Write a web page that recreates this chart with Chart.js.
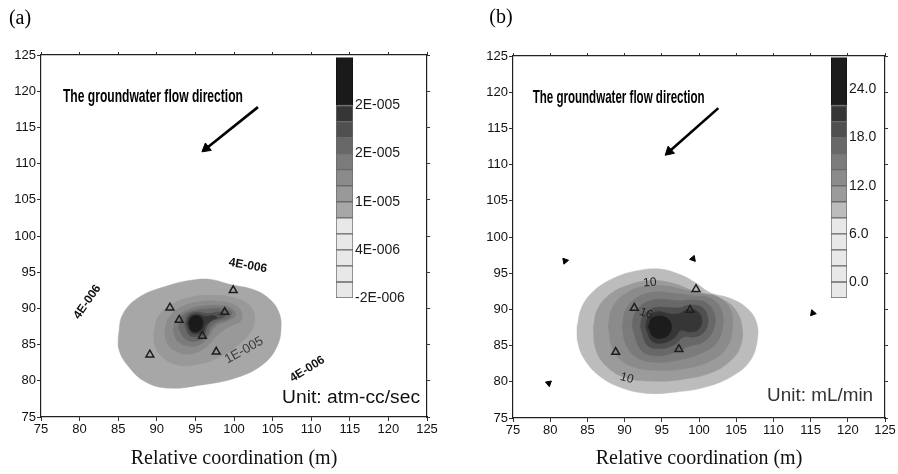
<!DOCTYPE html>
<html>
<head>
<meta charset="utf-8">
<script src="https://cdn.jsdelivr.net/npm/chart.js@4/dist/chart.umd.min.js"></script>
<style>
  body { margin: 0; background: #fff; width: 898px; height: 474px; position: relative; overflow: hidden; }
  .box { position: absolute; }
</style>
</head>
<body>
<div class="box" style="left:0;top:0;width:449px;height:474px"><canvas id="plotA"></canvas></div>
<div class="box" style="left:449px;top:0;width:449px;height:474px"><canvas id="plotB"></canvas></div>
<div class="box" style="left:336px;top:47px;width:80px;height:262px"><canvas id="barA"></canvas></div>
<div class="box" style="left:831px;top:47px;width:62px;height:262px"><canvas id="barB"></canvas></div>
<script>
// axis ticks (m)
const axisTicks = [75, 80, 85, 90, 95, 100, 105, 110, 115, 120, 125];

// contour levels (a: x1E-006 atm-cc/sec, b: mL/min)
const levels = [8, 10, 12, 14, 16, 18, 20, 22];

// colour bar bands
const bandLo = [-2, 0, 2, 4, 6, 8, 10, 12, 14, 16, 18, 20, 22];
const bandHi = [0, 2, 4, 6, 8, 10, 12, 14, 16, 18, 20, 22, 28];
const barTicksA = [-2, 4, 10, 16, 22];
const barLabelsA = ['-2E-006', '4E-006', '1E-005', '2E-005', '2E-005'];
const barTicksB = [0, 6, 12, 18, 24];
const barLabelsB = ['0.0', '6.0', '12.0', '18.0', '24.0'];

// monitoring wells (triangles)
const wellsAx = [99.9, 91.7, 92.9, 98.8, 95.9, 97.7, 89.1];
const wellsAy = [92.5, 90.1, 88.4, 89.5, 86.2, 84.0, 83.6];
const wellsBx = [99.6, 91.3, 88.8, 97.3, 98.8];
const wellsBy = [92.8, 90.2, 84.1, 84.5, 89.9];

// small flow marks in (b)
const marksBx = [82.0, 99.2, 115.3, 79.8];
const marksBy = [96.7, 97.0, 89.5, 79.8];

// groundwater flow arrows
const flowAx = [103.1, 96.4];
const flowAy = [117.8, 112.1];
const flowBx = [102.6, 96.0];
const flowBy = [117.8, 111.8];

// (a) contour outlines [x, y]
const contA08 = [[85.0,86.1],[85.6,89.2],[87.8,91.6],[91.3,93.1],[94.5,93.9],[97,94],[99.5,93.3],[102.5,92.6],[104.6,91.3],[105.8,89.5],[106.1,87.4],[105.6,84.8],[103.9,82.4],[100.5,80.5],[95.6,79.4],[91.3,79],[88.3,80],[86.1,82.3],[85.1,84.3]];
const contA10 = [[89.6,86.6],[90.2,88.9],[92,90.6],[94.6,91.6],[97.5,91.8],[100.3,91.4],[102.2,90.2],[102.7,88.4],[102,86.5],[100.4,84.8],[98.2,83.3],[95.4,82.3],[92.6,82.2],[90.5,83.5],[89.7,85]];
const contA12 = [[91,86.8],[91.6,88.8],[93.2,90.2],[95.4,90.9],[97.8,91],[99.8,90.6],[101,89.5],[100.8,88.2],[99.4,87.5],[97.8,86.3],[96.3,84.6],[94.3,83.7],[92.4,84.1],[91.3,85.3]];
const contA14 = [[92.1,87],[92.6,88.7],[94,89.8],[95.9,90.3],[98,90.4],[99.7,90],[100.2,89],[99.2,88.3],[97.7,87.6],[96.8,86.3],[95.7,85.1],[94.1,84.8],[92.7,85.5]];
const contA16 = [[92.8,87.3],[93.2,88.8],[94.5,89.6],[96.3,89.9],[98.3,90],[99.6,89.6],[99.4,88.7],[98,88.2],[97,87.4],[96.5,86.2],[95.3,85.5],[93.8,85.7]];
const contA18 = [[93.6,87.8],[94,89],[95.1,89.5],[96.7,89.3],[98.2,89.5],[98.9,89.1],[98.3,88.6],[97.2,88.3],[96.5,87.4],[96.2,86.5],[95.3,86.1],[94.2,86.3]];
const contA20 = [[93.9,87.9],[94.3,88.9],[95.3,89.2],[96.3,88.9],[97.3,89],[97.8,88.7],[97,88.3],[96.3,87.6],[96,86.8],[95.2,86.5],[94.4,86.7]];
const contA22 = [[94.1,88],[94.5,88.8],[95.3,89],[95.9,88.5],[95.9,87.5],[95.3,86.8],[94.5,86.9]];

// (b) contour outlines [x, y]
const contB08 = [[83.6,87.5],[84.2,90.2],[85.8,92.5],[88.5,94.3],[91.5,95.3],[94.5,95.6],[97.5,94.8],[99.5,93.7],[101.5,92.3],[104,91.6],[106.3,90.3],[107.7,88.3],[107.8,85.5],[106.8,82.8],[104.5,80.8],[101,79.3],[97,78.6],[93,78.4],[89.5,79.2],[86.5,80.9],[84.5,83.3],[83.7,85.5]];
const contB10 = [[85.8,87.5],[86.3,89.9],[87.8,91.9],[90.3,93.3],[93.5,94],[96.5,93.6],[98.6,92.8],[100.6,92],[102.8,91.5],[104.8,90.1],[105.8,87.5],[105.5,84.7],[104,82.7],[101.5,81.2],[97.5,80.3],[93.5,80.1],[90,80.6],[87.5,82.2],[86.1,84.6]];
const contB12 = [[87.8,87.6],[88.3,90.1],[90,92.1],[92.7,93.2],[95.8,93.2],[98.4,92.6],[100.6,92.2],[102.6,91.7],[104.2,90],[104.5,87.4],[103.7,84.7],[101.6,82.9],[98,81.8],[94,81.6],[90.6,82.3],[88.5,84.3]];
const contB14 = [[89.7,87.6],[90.1,89.8],[91.6,91.6],[94,92.4],[96.8,92.2],[99.2,91.9],[101.4,91.6],[102.9,90.2],[103.2,87.7],[102.3,85.3],[100.2,83.9],[97.2,83],[94,82.7],[91.4,83.5],[90.1,85.4]];
const contB16 = [[91,87.6],[91.4,89.5],[92.9,91],[95,91.4],[97.3,91.2],[99.2,91.3],[101,90.9],[102.1,89.3],[101.9,87.1],[100.6,85.5],[98.6,84.9],[96.5,84],[94.2,83.6],[92.2,84.4]];
const contB18 = [[92.1,87.6],[92.5,89.2],[93.9,90.2],[95.7,90.3],[97.3,90.2],[98.8,90.6],[100.4,90.3],[101.2,88.8],[100.8,87],[99.5,86.2],[97.9,86.2],[96.8,85.2],[95,84.6],[93.1,85]];
const contB20 = [[92.8,87.6],[93.2,89],[94.5,89.7],[96,89.4],[97.2,89.4],[98.5,90],[99.8,89.7],[100.4,88.5],[99.9,87.2],[98.8,86.9],[97.5,87.1],[96.8,86.2],[95.4,85.4],[93.7,85.6]];
const contB22 = [[93.2,87.6],[93.6,88.7],[94.6,89.1],[95.7,88.8],[96.3,87.8],[96,86.6],[95,86],[93.8,86.3]];

// styles
const shadesA = ['#a7a7a7', '#999999', '#8b8b8b', '#7b7b7b', '#686868', '#505050', '#363636', '#1a1a1a'];
const shadesB = ['#bcbcbc', '#9b9b9b', '#8b8b8b', '#7b7b7b', '#686868', '#4f4f4f', '#363636', '#1c1c1c'];
const pale = '#e8e8e8';
const sans = "'Liberation Sans', Arial, sans-serif";
const serif = "'Liberation Serif', 'Times New Roman', serif";

function toXY(xs, ys) {
  return xs.map((x, i) => ({ x: x, y: ys[i] }));
}
function ring(pts) {
  const d = pts.map(p => ({ x: p[0], y: p[1] }));
  d.push({ x: pts[0][0], y: pts[0][1] });
  return d;
}

function notes(items) {
  return {
    id: 'notes',
    afterDatasetsDraw(chart) {
      const ctx = chart.ctx;
      const sx = chart.scales.x, sy = chart.scales.y;
      items.forEach(n => {
        const px = n.abs ? n.x : sx.getPixelForValue(n.x);
        const py = n.abs ? n.y : sy.getPixelForValue(n.y);
        ctx.save();
        ctx.translate(px, py);
        if (n.rot) ctx.rotate(n.rot * Math.PI / 180);
        ctx.font = n.font;
        ctx.fillStyle = n.color || '#111';
        ctx.textAlign = n.align || 'center';
        ctx.textBaseline = 'middle';
        if (n.w) {
          const m = ctx.measureText(n.text).width;
          ctx.scale(n.w / m, 1);
        }
        ctx.fillText(n.text, 0, 0);
        ctx.restore();
      });
    }
  };
}

function plot(id, o) {
  const ds = [];
  ds.push({
    type: 'scatter', data: toXY(o.wx, o.wy),
    pointStyle: 'triangle', pointRadius: 4.5,
    pointBorderColor: '#1e1e1e', pointBorderWidth: 1.5, pointBackgroundColor: 'rgba(0,0,0,0)'
  });
  if (o.mx) {
    ds.push({
      type: 'scatter', data: toXY(o.mx, o.my),
      pointStyle: 'triangle', pointRadius: 3.5, pointRotation: o.mrot,
      pointBackgroundColor: '#000', pointBorderColor: '#000', pointBorderWidth: 1
    });
  }
  ds.push({
    type: 'line', data: toXY(o.fx, o.fy),
    borderColor: '#000', borderWidth: 2.6, tension: 0, fill: false,
    pointStyle: 'triangle', pointRadius: [0, 5.5], pointRotation: [0, o.headRot],
    pointBackgroundColor: '#000', pointBorderColor: '#000', pointBorderWidth: 1
  });
  for (let i = o.cont.length - 1; i >= 0; i--) {
    ds.push({
      type: 'line', data: ring(o.cont[i]), fill: 'shape',
      backgroundColor: o.shades[i], borderColor: o.shades[i], borderWidth: 0.5,
      pointRadius: 0, tension: 0.4
    });
  }

  const tickFont = { family: sans, size: 13 };
  const fixTicks = s => { s.ticks = axisTicks.map(v => ({ value: v })); };
  const side = {
    type: 'linear', min: 75, max: 125,
    afterBuildTicks: fixTicks,
    ticks: { display: false },
    grid: { drawOnChartArea: false, tickLength: 3, color: '#333' },
    border: { color: '#222', width: 1.2 }
  };

  return new Chart(document.getElementById(id), {
    type: 'scatter',
    data: { datasets: ds },
    plugins: [notes(o.notes)],
    options: {
      responsive: true, maintainAspectRatio: false, animation: false, events: [],
      layout: { padding: { top: o.top, right: o.right, left: 0, bottom: 0 } },
      plugins: { legend: { display: false }, tooltip: { enabled: false } },
      scales: {
        x: {
          type: 'linear', position: 'bottom', min: 75, max: 125,
          afterBuildTicks: fixTicks,
          ticks: { font: tickFont, color: '#111', padding: 1, maxRotation: 0, autoSkip: false },
          grid: { drawOnChartArea: false, tickLength: 4, color: '#333' },
          border: { color: '#222', width: 1.2 },
          title: { display: true, text: 'Relative coordination (m)', color: '#111',
                   font: { family: serif, size: 20 }, padding: { top: 0, bottom: 3 } },
          afterFit: s => { s.height = o.xh; }
        },
        y: {
          type: 'linear', position: 'left', min: 75, max: 125,
          afterBuildTicks: fixTicks,
          ticks: { font: tickFont, color: '#111', padding: 1, autoSkip: false },
          grid: { drawOnChartArea: false, tickLength: 4, color: '#333' },
          border: { color: '#222', width: 1.2 },
          afterFit: s => { s.width = o.yw; }
        },
        x2: Object.assign({ position: 'top', afterFit: s => { s.height = 0; } }, side),
        y2: Object.assign({ position: 'right', afterFit: s => { s.width = 0; } }, side)
      }
    }
  });
}

function colourBar(id, shades, ticks, labels, w) {
  const cols = [pale, pale, pale, pale, pale].concat(shades.slice(0, 7), [shades[7]]);
  const ds = bandLo.map((lo, i) => ({
    data: [[lo, bandHi[i]]],
    backgroundColor: cols[i],
    borderColor: i === bandLo.length - 1 ? '#111' : '#6a6a6a',
    borderWidth: 1, borderSkipped: false,
    barPercentage: 1, categoryPercentage: 1, grouped: false
  }));
  return new Chart(document.getElementById(id), {
    type: 'bar',
    data: { labels: [''], datasets: ds },
    options: {
      responsive: true, maintainAspectRatio: false, animation: false, events: [],
      layout: { padding: { top: 10, bottom: 11, left: 0, right: 0 } },
      plugins: { legend: { display: false }, tooltip: { enabled: false } },
      scales: {
        x: { display: false },
        y: {
          position: 'right', min: -2, max: 28,
          afterBuildTicks: s => { s.ticks = ticks.map(v => ({ value: v })); },
          ticks: { callback: (v, i) => labels[i], font: { family: sans, size: 14 }, color: '#1a1a1a', padding: 2 },
          grid: { display: false, drawTicks: false }, border: { display: false },
          afterFit: s => { s.width = w; }
        }
      }
    }
  });
}

plot('plotA', {
  top: 55, right: 22, xh: 57, yw: 41,
  wx: wellsAx, wy: wellsAy,
  fx: flowAx, fy: flowAy, headRot: 231,
  cont: [contA08, contA10, contA12, contA14, contA16, contA18, contA20, contA22],
  shades: shadesA,
  notes: [
    { abs: true, x: 20, y: 19, text: '(a)', font: '20px ' + serif, color: '#000' },
    { x: 89.5, y: 119.3, text: 'The groundwater flow direction', font: 'bold 19px ' + sans, w: 180, color: '#000' },
    { x: 124.1, y: 77.6, text: 'Unit: atm-cc/sec', font: '18px ' + sans, align: 'right', w: 138, color: '#111' },
    { x: 101.8, y: 95.9, text: '4E-006', font: 'bold 12px ' + sans, rot: 10, color: '#111' },
    { x: 81.0, y: 90.9, text: '4E-006', font: 'bold 12px ' + sans, rot: -55, color: '#111' },
    { x: 109.5, y: 81.6, text: '4E-006', font: 'bold 12px ' + sans, rot: -32, color: '#111' },
    { x: 101.3, y: 84.2, text: '1E-005', font: '13px ' + sans, rot: -29, color: '#3a3a3a' }
  ]
});

plot('plotB', {
  top: 56, right: 13, xh: 56, yw: 64,
  wx: wellsBx, wy: wellsBy,
  mx: marksBx, my: marksBy, mrot: [-40, 20, 100, 50],
  fx: flowBx, fy: flowBy, headRot: 228,
  cont: [contB08, contB10, contB12, contB14, contB16, contB18, contB20, contB22],
  shades: shadesB,
  notes: [
    { abs: true, x: 52, y: 18, text: '(b)', font: '20px ' + serif, color: '#000' },
    { x: 89.2, y: 119.2, text: 'The groundwater flow direction', font: 'bold 19px ' + sans, w: 172, color: '#000' },
    { x: 123.4, y: 78.1, text: 'Unit: mL/min', font: '18px ' + sans, align: 'right', w: 106, color: '#333' },
    { x: 93.4, y: 93.7, text: '10', font: '12px ' + sans, rot: -5, color: '#222' },
    { x: 92.9, y: 89.4, text: '16', font: '12px ' + sans, rot: 20, color: '#222' },
    { x: 90.3, y: 80.5, text: '10', font: '12px ' + sans, rot: 15, color: '#222' }
  ]
});

colourBar('barA', shadesA, barTicksA, barLabelsA, 63);
colourBar('barB', shadesB, barTicksB, barLabelsB, 46);
</script>
</body>
</html>
